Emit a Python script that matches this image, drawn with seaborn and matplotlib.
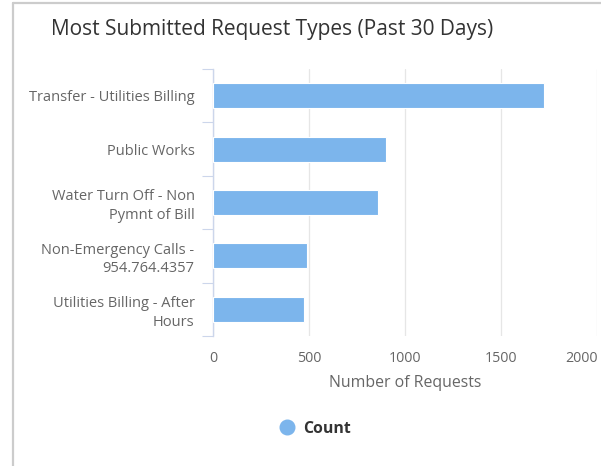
import matplotlib
matplotlib.use("Agg")
import matplotlib.pyplot as plt
from matplotlib.lines import Line2D
import pandas as pd
import seaborn as sns

CATEGORIES = [
    "Transfer - Utilities Billing",
    "Public Works",
    "Water Turn Off - Non\nPymnt of Bill",
    "Non-Emergency Calls -\n954.764.4357",
    "Utilities Billing - After\nHours",
]
COUNTS = [1720, 900, 860, 490, 470]
X_TICKS = [0, 500, 1000, 1500, 2000]

TITLE = "Most Submitted Request Types (Past 30 Days)"
X_LABEL = "Number of Requests"
SERIES_NAME = "Count"

BAR_COLOR = "#7cb5ec"
GRID_COLOR = "#e6e6e6"
AXIS_COLOR = "#ccd6eb"
LABEL_COLOR = "#666666"
TITLE_COLOR = "#333333"


def main() -> None:
    sns.set_theme(style="white")
    plt.rcParams["font.family"] = ["Open Sans", "DejaVu Sans"]

    df = pd.DataFrame({"category": CATEGORIES, "count": COUNTS})

    fig = plt.figure(figsize=(6.01, 4.66), dpi=100)
    ax = fig.add_axes([213.3 / 601, 1 - 336 / 466, (597.3 - 213.3) / 601, (336 - 69) / 466])

    sns.barplot(
        data=df, x="count", y="category", color=BAR_COLOR, saturation=1,
        width=0.47, edgecolor="white", linewidth=0.8, ax=ax, zorder=3,
    )

    ax.set_xlim(0, 2000)
    ax.set_ylim(4.5, -0.5)
    ax.set_xticks(X_TICKS)
    ax.set_xticklabels([str(t) for t in X_TICKS])
    ax.grid(True, axis="x", color=GRID_COLOR, linewidth=0.9, zorder=0)
    ax.grid(False, axis="y")

    for side in ["top", "right", "bottom"]:
        ax.spines[side].set_visible(False)
    ax.spines["left"].set_color(AXIS_COLOR)
    ax.spines["left"].set_linewidth(1.0)

    ax.set_yticks([i - 0.5 for i in range(len(CATEGORIES) + 1)], minor=True)
    ax.tick_params(axis="y", which="minor", length=8, width=0.8, color=AXIS_COLOR, left=True)
    ax.tick_params(axis="y", which="major", length=0, pad=13.5, labelsize=10.55, labelcolor=LABEL_COLOR)
    ax.tick_params(axis="x", which="major", length=0, pad=11, labelsize=10.3, labelcolor=LABEL_COLOR)
    for lbl in ax.get_yticklabels():
        lbl.set_horizontalalignment("right")
        lbl.set_multialignment("right")
        lbl.set_linespacing(1.3)
    ax.get_xticklabels()[-1].set_horizontalalignment("right")

    ax.set_ylabel("")
    ax.set_xlabel(X_LABEL, fontsize=11.4, color=LABEL_COLOR, labelpad=6)

    fig.text(272.5 / 601, 1 - 29 / 466, TITLE, ha="center", va="center",
             fontsize=15, color=TITLE_COLOR)

    handle = Line2D([], [], marker="o", linestyle="", markersize=10.5,
                    markerfacecolor=BAR_COLOR, markeredgecolor=BAR_COLOR)
    leg = fig.legend([handle], [SERIES_NAME], loc="center",
                     bbox_to_anchor=(311 / 601, 1 - 429 / 466), frameon=False,
                     handletextpad=0.05, prop={"weight": "bold", "size": 11.4})
    for t in leg.get_texts():
        t.set_color(TITLE_COLOR)

    # card border (left and top)
    fig.add_artist(Line2D([13 / 601, 13 / 601], [0, 1 - 3 / 466], color="#cccccc", linewidth=1.6))
    fig.add_artist(Line2D([13 / 601, 1], [1 - 3 / 466, 1 - 3 / 466], color="#cccccc", linewidth=1.6))

    fig.savefig("out.png", dpi=100)
    plt.close(fig)


if __name__ == "__main__":
    main()
